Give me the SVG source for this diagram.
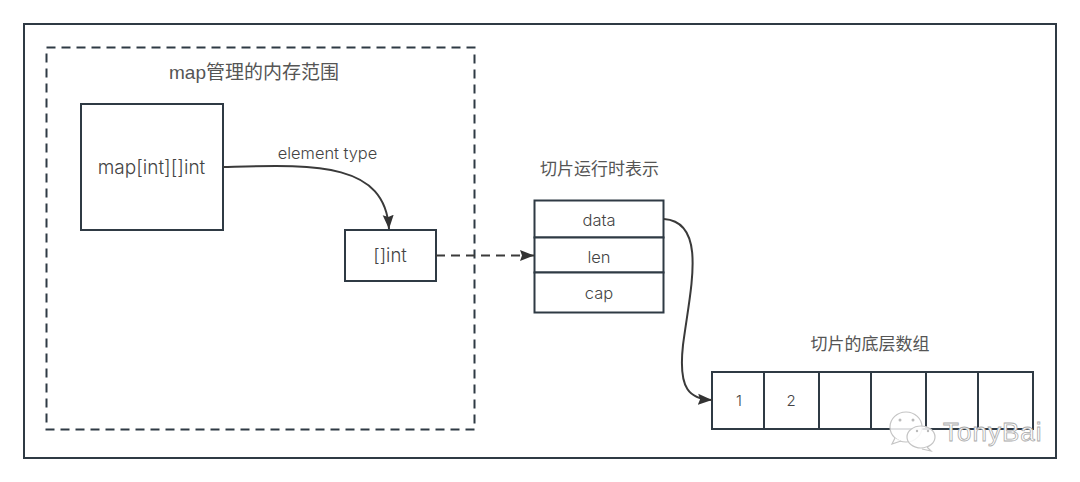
<svg xmlns="http://www.w3.org/2000/svg" width="1080" height="482" viewBox="0 0 1080 482">
<defs>
<style>
.b{fill:#fff;stroke:#2f3a44;stroke-width:2}
.n{fill:none;stroke:#2f3a44;stroke-width:2}
.c{fill:none;stroke:#3a3a3a;stroke-width:2}
.t{font-family:"Inter","Liberation Sans","Noto Sans CJK SC",sans-serif;font-weight:300;fill:#444;text-anchor:middle}
.z{font-family:"Liberation Sans","Noto Sans CJK SC",sans-serif;fill:#555;text-anchor:middle;font-size:17px}
.wm{fill:#fff;fill-opacity:.85;stroke:#c4c4c4;stroke-width:1.2}
</style>
<marker id="a" markerUnits="userSpaceOnUse" markerWidth="16" markerHeight="14" refX="14" refY="7" orient="auto"><path d="M0 1.500L14 7L0 12.500L2 7Z" fill="#333"/></marker>
</defs>
<rect width="1080" height="482" fill="#fff"/>
<g id="frame"><rect class="n" x="24" y="24" width="1032" height="434"/></g>
<g id="map-scope"><rect x="46.500" y="47.500" width="428" height="382" fill="none" stroke="#2f3a44" stroke-width="2" stroke-dasharray="9 6"/><text class="z" x="254" y="79" style="font-size:19px">map管理的内存范围</text></g>
<g id="map-node"><rect class="b" x="81" y="104" width="142" height="126"/><text class="t" x="151.500" y="174" font-size="19">map[int][]int</text></g>
<g id="slice-node"><rect class="b" x="345" y="230" width="91" height="51"/><text class="t" x="390" y="262" font-size="18.500">[]int</text></g>
<g id="slice-header">
<text class="z" x="599.500" y="175">切片运行时表示</text>
<rect class="b" x="534.500" y="200.500" width="129" height="37"/><text class="t" x="599" y="226" font-size="16.500">data</text>
<rect class="b" x="534.500" y="237.500" width="129" height="35"/><text class="t" x="599" y="263" font-size="16.500">len</text>
<rect class="b" x="534.500" y="272.500" width="129" height="40"/><text class="t" x="599" y="299" font-size="16.500">cap</text>
</g>
<g id="backing-array">
<text class="z" x="870" y="350">切片的底层数组</text>
<rect class="b" x="712" y="372" width="52" height="57"/><text class="t" x="739" y="406" font-size="15">1</text>
<rect class="b" x="764" y="372" width="55" height="57"/><text class="t" x="791" y="406" font-size="15">2</text>
<rect class="b" x="819" y="372" width="52" height="57"/>
<rect class="b" x="871" y="372" width="55" height="57"/>
<rect class="b" x="926" y="372" width="52" height="57"/>
<rect class="b" x="978" y="372" width="55" height="57"/>
</g>
<g id="connectors">
<path class="c" d="M223 167C310 165 385 160 389 229" marker-end="url(#a)"/>
<text class="t" x="327.500" y="159" font-size="16.400">element type</text>
<path class="c" stroke-dasharray="9 6" d="M436 255.500H534" marker-end="url(#a)"/>
<path class="c" d="M664 219C708 222 690 290 683 345C678 390 690 399 712 400" marker-end="url(#a)"/>
</g>
<g id="watermark">
<ellipse class="wm" cx="906" cy="427" rx="16" ry="15"/><path class="wm" d="M895 438l-3 6 9-3"/>
<ellipse class="wm" cx="921" cy="437" rx="14" ry="11"/><path class="wm" d="M927 447l4 4-9-2"/>
<circle cx="900" cy="420" r="1.500" fill="#bbb"/><circle cx="913" cy="420" r="1.500" fill="#bbb"/>
<circle cx="917" cy="431" r="1.200" fill="#bbb"/><circle cx="928" cy="431" r="1.200" fill="#bbb"/>
<text x="943" y="441" font-family="Liberation Sans,sans-serif" font-size="26" fill="#fff" stroke="#aaa" stroke-width=".8" letter-spacing="1">TonyBai</text>
</g>
</svg>
